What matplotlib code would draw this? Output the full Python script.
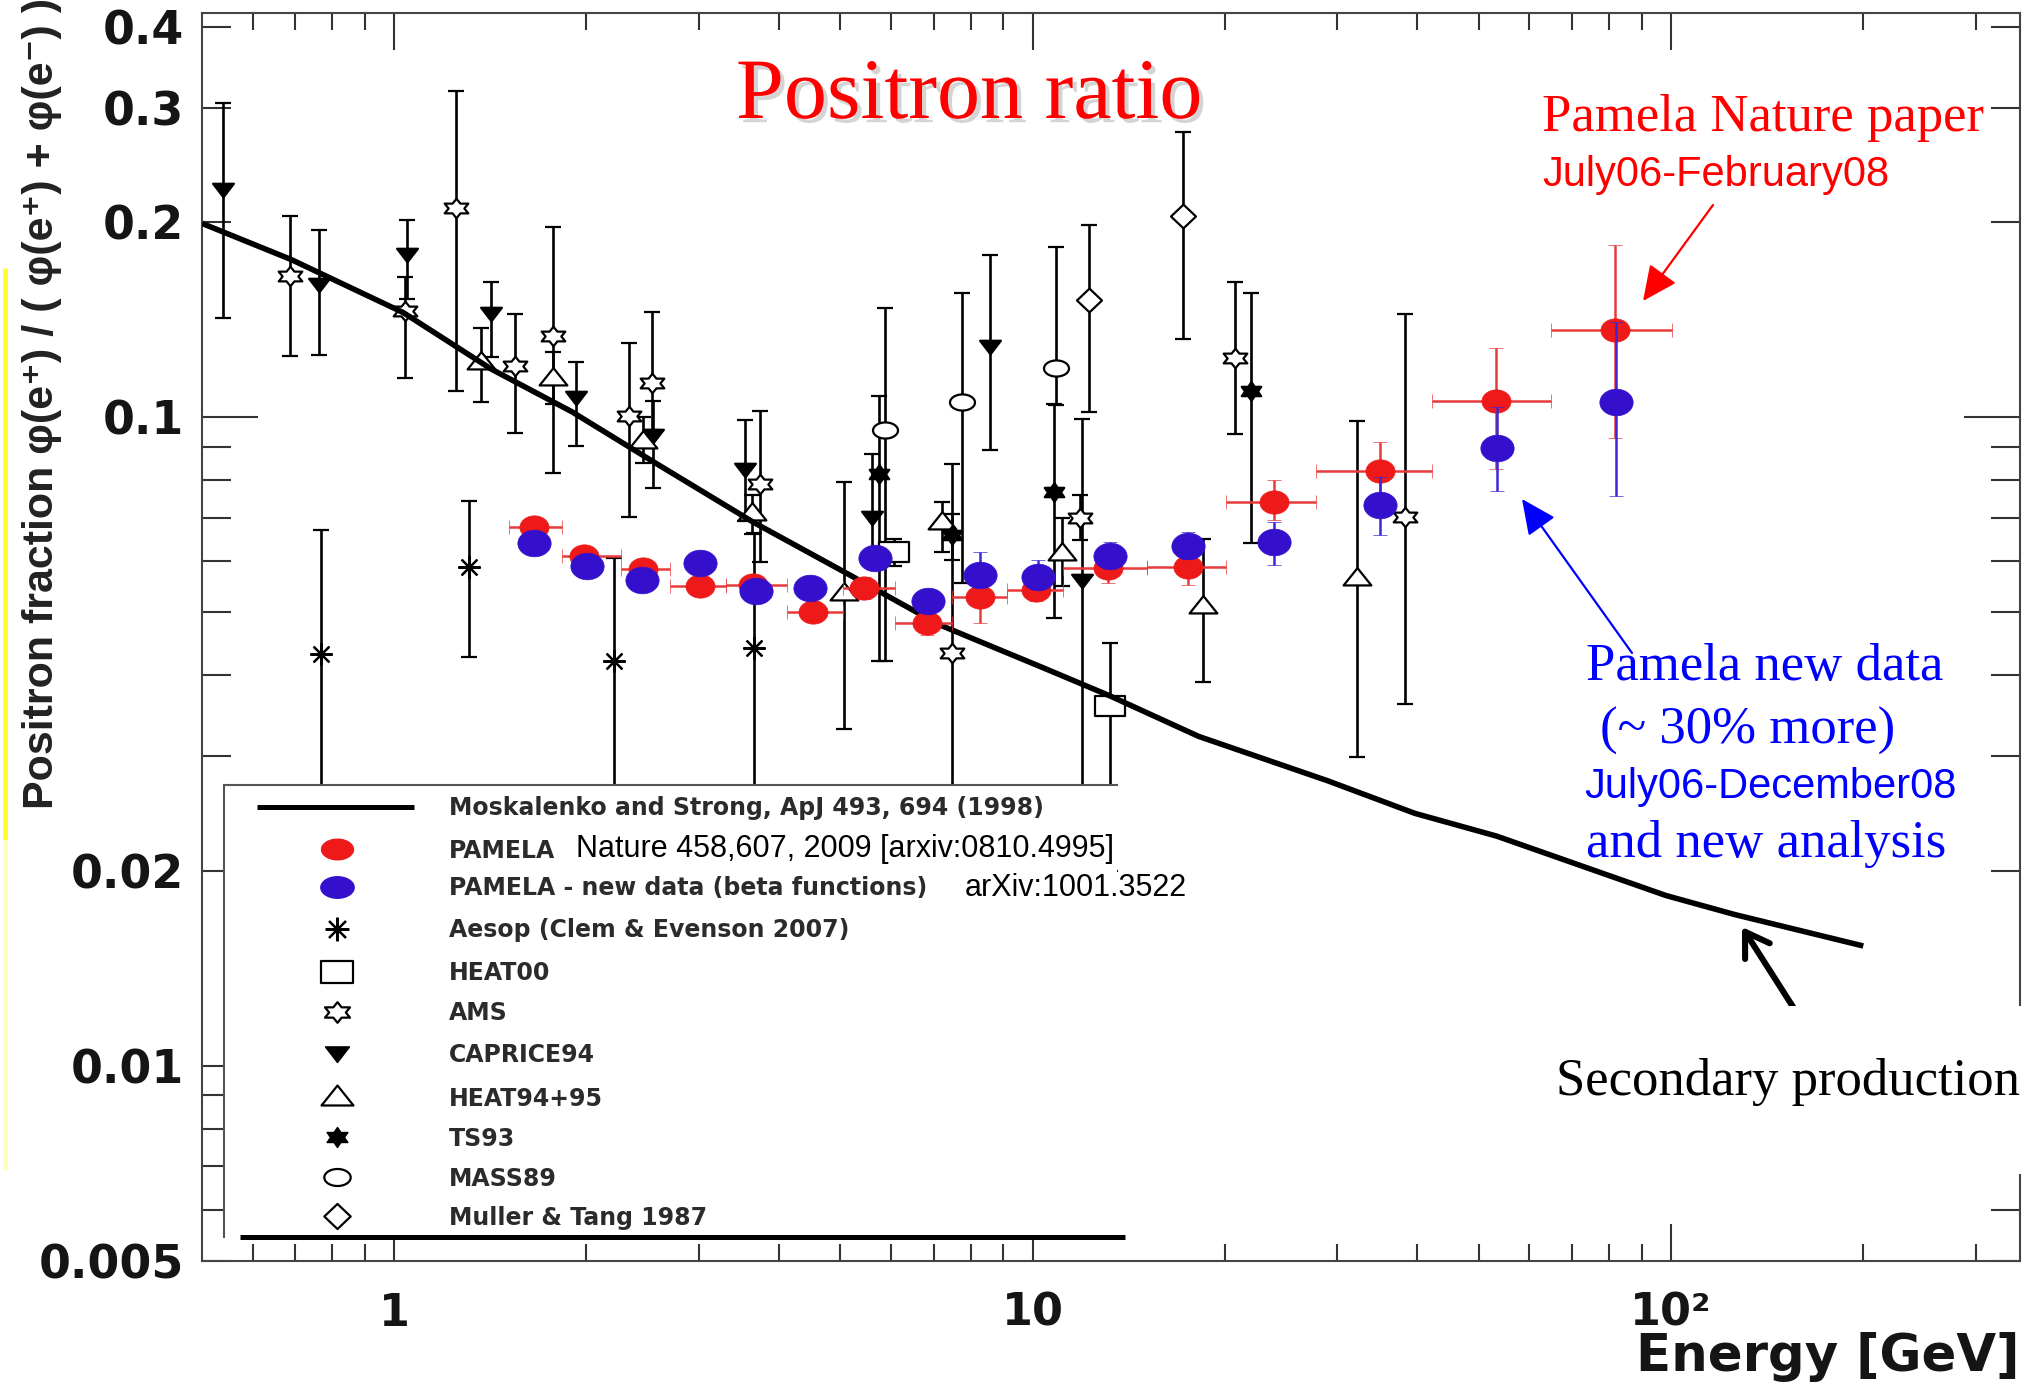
import numpy as np
import matplotlib
matplotlib.use("Agg")
import matplotlib.pyplot as plt
from matplotlib.path import Path
from matplotlib.patches import Rectangle
from matplotlib.ticker import NullFormatter
import matplotlib.patheffects as pe

# ---------------- data ----------------
# Secondary production model (Moskalenko & Strong 1998)
model_E = [0.50, 0.690, 1.033, 1.42, 1.90, 2.54, 3.65, 5.19, 7.13, 10.5, 13.2,
           18.2, 29.0, 39.7, 53.3, 98.2, 126, 200]
model_f = [0.199, 0.175, 0.145, 0.1186, 0.1019, 0.0855, 0.0689, 0.057, 0.0479,
           0.0409, 0.0372, 0.0322, 0.0275, 0.0245, 0.0226, 0.0183, 0.0171, 0.0153]

# PAMELA (Nature 2009) - red
red_E = [1.656, 1.984, 2.449, 3.011, 3.649, 4.527, 5.436, 6.826, 8.271, 10.14,
         13.13, 17.54, 23.92, 34.94, 53.18, 81.73]
red_f = [0.0676, 0.0611, 0.0583, 0.0550, 0.0552, 0.0501, 0.0545, 0.0482, 0.0529,
         0.0542, 0.0585, 0.0588, 0.0741, 0.0826, 0.1061, 0.1361]
red_lo = [0.0655, 0.0592, 0.0565, 0.0533, 0.0533, 0.0483, 0.0525, 0.0462, 0.0482,
          0.0520, 0.0555, 0.0551, 0.0695, 0.0751, 0.0833, 0.0929]
red_hi = [0.0698, 0.0631, 0.0602, 0.0568, 0.0572, 0.0520, 0.0567, 0.0503, 0.0575,
          0.0565, 0.0615, 0.0625, 0.0801, 0.0917, 0.1278, 0.1845]
red_Elo = [1.514, 1.831, 2.262, 2.703, 3.306, 4.122, 5.042, 6.097, 7.469, 9.107,
           11.17, 15.08, 20.12, 27.8, 42.2, 64.95]
red_Ehi = [1.831, 2.262, 2.703, 3.306, 4.122, 5.042, 6.097, 7.469, 9.107, 11.17,
           15.08, 20.12, 27.8, 42.2, 64.95, 100.5]

# PAMELA new data - blue
blue_E = [1.656, 2.001, 2.445, 3.018, 3.684, 4.485, 5.670, 6.855, 8.271, 10.20,
          13.21, 17.51, 23.92, 34.94, 53.35, 81.92]
blue_f = [0.0639, 0.0590, 0.0561, 0.0595, 0.0540, 0.0545, 0.0606, 0.0521, 0.0571,
          0.0568, 0.0611, 0.0632, 0.0642, 0.0731, 0.0897, 0.1054]
blue_lo = [0.0622, 0.0575, 0.0546, 0.0580, 0.0525, 0.0529, 0.0588, 0.0505, 0.0552,
           0.0550, 0.0590, 0.0605, 0.0592, 0.0658, 0.0769, 0.0755]
blue_hi = [0.0657, 0.0606, 0.0577, 0.0612, 0.0556, 0.0562, 0.0624, 0.0538, 0.0620,
           0.0602, 0.0643, 0.0666, 0.0690, 0.0809, 0.1037, 0.1400]

# Aesop (Clem & Evenson 2007)
aesop_E = [0.768, 1.311, 2.209, 3.657]
aesop_f = [0.0431, 0.0588, 0.0421, 0.0440]
aesop_lo = [0.020, 0.0427, 0.020, 0.020]
aesop_hi = [0.0670, 0.0743, 0.0606, 0.0662]

# HEAT00
heat00_E = [6.055, 13.21]
heat00_f = [0.0620, 0.0359]
heat00_lo = [0.0590, 0.020]
heat00_hi = [0.0650, 0.0448]

# AMS
ams_E = [0.688, 1.040, 1.251, 1.546, 1.772, 2.334, 2.537, 3.746, 7.469, 11.86, 20.73, 38.36]
ams_f = [0.1652, 0.1459, 0.2101, 0.1198, 0.1335, 0.1005, 0.1128, 0.0790, 0.0433, 0.0698, 0.1236, 0.0702]
ams_lo = [0.1243, 0.1151, 0.1097, 0.0946, 0.0821, 0.0702, 0.0955, 0.0599, 0.020, 0.0646, 0.0942, 0.0361]
ams_hi = [0.2046, 0.1647, 0.3189, 0.1443, 0.1964, 0.1300, 0.1455, 0.1024, 0.0848, 0.0758, 0.1614, 0.1445]

# CAPRICE94
caprice_E = [0.540, 0.762, 1.048, 1.416, 1.930, 2.545, 3.548, 5.602, 8.575, 11.97]
caprice_f = [0.2249, 0.1603, 0.1786, 0.1449, 0.1075, 0.0938, 0.0832, 0.0702, 0.1288, 0.0561]
caprice_lo = [0.1420, 0.1248, 0.1521, 0.1240, 0.0902, 0.0777, 0.0692, 0.0603, 0.0891, 0.020]
caprice_hi = [0.3050, 0.1943, 0.2014, 0.1619, 0.1215, 0.1061, 0.0991, 0.0879, 0.1777, 0.0995]

# HEAT94+95
heat95_E = [1.366, 1.772, 2.457, 3.636, 5.067, 7.204, 11.10, 18.49, 32.19]
heat95_f = [0.1215, 0.1151, 0.0920, 0.0711, 0.0535, 0.0690, 0.0617, 0.0511, 0.0565]
heat95_lo = [0.1054, 0.1047, 0.0851, 0.0661, 0.0331, 0.0620, 0.0550, 0.0390, 0.0299]
heat95_hi = [0.1372, 0.1259, 0.1000, 0.0759, 0.0794, 0.0740, 0.0698, 0.0650, 0.0988]

# TS93
ts93_E = [5.737, 7.469, 10.80, 22.01]
ts93_f = [0.0818, 0.0658, 0.0767, 0.1099]
ts93_lo = [0.0421, 0.0603, 0.0490, 0.0639]
ts93_hi = [0.1080, 0.0708, 0.1047, 0.1556]

# MASS89
mass89_E = [5.875, 7.745, 10.86]
mass89_f = [0.0954, 0.1054, 0.1193]
mass89_lo = [0.0421, 0.0555, 0.1046]
mass89_hi = [0.1476, 0.1556, 0.1830]

# Muller & Tang 1987
muller_E = [12.27, 17.20]
muller_f = [0.1514, 0.2041]
muller_lo = [0.1019, 0.1319]
muller_hi = [0.1982, 0.2757]

# axis ticks
x_major = [1, 10, 100]
x_major_labels = ["1", "10", "10\u00b2"]
x_minor = [0.6, 0.7, 0.8, 0.9, 2, 3, 4, 5, 6, 7, 8, 9,
           20, 30, 40, 50, 60, 70, 80, 90, 200, 300]
y_major = [0.01, 0.1]
y_major_labels = ["0.01", "0.1"]
y_minor = [0.005, 0.006, 0.007, 0.008, 0.009, 0.02, 0.03, 0.04, 0.05, 0.06,
           0.07, 0.08, 0.09, 0.2, 0.3, 0.4]
y_minor_labels = ["0.005", "", "", "", "", "0.02", "", "", "", "", "", "", "",
                  "0.2", "0.3", "0.4"]

legend_labels = ["Moskalenko and Strong, ApJ 493, 694 (1998)",
                 "PAMELA", "PAMELA - new data (beta functions)",
                 "Aesop (Clem & Evenson 2007)", "HEAT00", "AMS", "CAPRICE94",
                 "HEAT94+95", "TS93", "MASS89", "Muller & Tang 1987"]


# ---------------- marker shapes ----------------
def closed(verts):
    v = np.asarray(verts, float)
    v = np.vstack([v, v[:1]])
    return Path(v, closed=True)


_t = np.linspace(0, 2 * np.pi, 49)[:-1]


def ellipse(aspect):
    return closed(np.c_[aspect * np.cos(_t), np.sin(_t)])


def hexagram(sx):
    ang = np.deg2rad(90 + 30 * np.arange(12))
    r = np.where(np.arange(12) % 2 == 0, 1.0, 0.577)
    return closed(np.c_[sx * r * np.cos(ang), r * np.sin(ang)])


m_red = ellipse(1.25)
m_leg_dot = ellipse(1.55)
m_mass = ellipse(1.55)
m_ams = hexagram(1.4)
m_ts = hexagram(1.2)
m_tri_up = closed([(-1, -0.5), (1, -0.5), (0, 0.75)])
m_tri_dn = closed([(-1, 0.55), (1, 0.55), (0, -0.75)])
m_rect = closed([(-1, -0.67), (1, -0.67), (1, 0.67), (-1, 0.67)])
m_diam = closed([(-1, 0), (0, 0.95), (1, 0), (0, -0.95)])
m_ast = (8, 2, 0)

RED = "#ee1a1a"
BLUE = "#3510cc"

# ---------------- figure ----------------
W, H = 2042, 1385
fig = plt.figure(figsize=(W / 100, H / 100), dpi=100)
L, R, T, B = 202, 2020, 13, 1261
ax = fig.add_axes([L / W, 1 - B / H, (R - L) / W, (B - T) / H])
ax.set_xscale("log")
ax.set_yscale("log")
ax.set_xlim(0.5, 352)
ax.set_ylim(0.005, 0.42)

for s in ax.spines.values():
    s.set_color("#444444")
    s.set_linewidth(1.5)

ax.set_xticks(x_major)
ax.set_xticklabels(x_major_labels)
ax.set_xticks(x_minor, minor=True)
ax.xaxis.set_minor_formatter(NullFormatter())
ax.set_yticks(y_major)
ax.set_yticklabels(y_major_labels)
ax.set_yticks(y_minor, minor=True)
ax.set_yticklabels(y_minor_labels, minor=True)

ax.tick_params(which="both", direction="in", top=True, right=True,
               color="#333333", width=1.5)
ax.tick_params(axis="x", which="major", length=26.5, pad=22)
ax.tick_params(axis="x", which="minor", length=12.5)
ax.tick_params(axis="y", which="major", length=40, pad=13)
ax.tick_params(axis="y", which="minor", length=21, pad=13)
for t in ax.get_xticklabels(which="both"):
    t.set_fontfamily("DejaVu Sans")
    t.set_fontweight("bold")
    t.set_fontsize(32)
    t.set_color("#151515")
for t in ax.get_yticklabels(which="both"):
    t.set_fontfamily("DejaVu Sans")
    t.set_fontweight("bold")
    t.set_fontsize(33)
    t.set_color("#151515")


def black_set(E, f, lo, hi, marker, ms, filled=False, z=2):
    E = np.asarray(E); f = np.asarray(f)
    yerr = [f - np.asarray(lo), np.asarray(hi) - f]
    ax.errorbar(E, f, yerr=yerr, ls="none", marker=marker, ms=ms,
                mfc="black" if filled else "white", mec="black", mew=1.6,
                ecolor="black", elinewidth=1.9, capsize=5.5, capthick=1.9,
                zorder=z)


black_set(aesop_E, aesop_f, aesop_lo, aesop_hi, m_ast, 16)
black_set(heat00_E, heat00_f, heat00_lo, heat00_hi, m_rect, 21)
black_set(ams_E, ams_f, ams_lo, ams_hi, m_ams, 17)
black_set(caprice_E, caprice_f, caprice_lo, caprice_hi, m_tri_dn, 15, filled=True)
black_set(heat95_E, heat95_f, heat95_lo, heat95_hi, m_tri_up, 20)
black_set(ts93_E, ts93_f, ts93_lo, ts93_hi, m_ts, 14, filled=True)
black_set(mass89_E, mass89_f, mass89_lo, mass89_hi, m_mass, 18)
black_set(muller_E, muller_f, muller_lo, muller_hi, m_diam, 18)

ax.plot(model_E, model_f, color="black", lw=4.0, zorder=3,
        solid_capstyle="butt", solid_joinstyle="round")

rE = np.asarray(red_E); rf = np.asarray(red_f)
ax.errorbar(rE, rf,
            yerr=[rf - np.asarray(red_lo), np.asarray(red_hi) - rf],
            xerr=[rE - np.asarray(red_Elo), np.asarray(red_Ehi) - rE],
            ls="none", marker=m_red, ms=21, mfc=RED, mec=RED, mew=0.5,
            ecolor="#e83a3a", elinewidth=1.8, capsize=5, capthick=1.8, zorder=4)
bf = np.asarray(blue_f)
ax.errorbar(blue_E, bf,
            yerr=[bf - np.asarray(blue_lo), np.asarray(blue_hi) - bf],
            ls="none", marker=m_red, ms=24, mfc=BLUE, mec=BLUE, mew=0.5,
            ecolor="#3a28d8", elinewidth=1.8, capsize=5, capthick=1.8, zorder=5)

# ---------------- overlay (legend box, annotations) ----------------
ov = fig.add_axes([0, 0, 1, 1], zorder=10)
ov.set_xlim(0, W)
ov.set_ylim(H, 0)
ov.axis("off")

# legend box
ov.add_patch(Rectangle((224, 785), 893, 452, facecolor="white",
                       edgecolor="none", zorder=1))
ov.plot([224, 1117], [785, 785], color="#555555", lw=1.5, zorder=2)
ov.plot([224, 224], [785, 1237], color="#555555", lw=1.5, zorder=2)
ov.plot([240, 1125], [1237, 1237], color="black", lw=3.6, zorder=2,
        solid_capstyle="butt")

rows = [807, 849, 887, 929, 972, 1012, 1053, 1097, 1137, 1177, 1216]
mx, tx = 337, 449
ov.plot([257, 414], [rows[0], rows[0]], color="black", lw=3.6,
        solid_capstyle="butt", zorder=3)
leg_markers = [None,
               dict(marker=m_leg_dot, ms=23, mfc=RED, mec=RED),
               dict(marker=m_leg_dot, ms=24, mfc=BLUE, mec=BLUE),
               dict(marker=m_ast, ms=17, mfc="black", mec="black", mew=1.6),
               dict(marker=m_rect, ms=23, mfc="white", mec="black", mew=1.6),
               dict(marker=m_ams, ms=18, mfc="white", mec="black", mew=1.6),
               dict(marker=m_tri_dn, ms=17, mfc="black", mec="black", mew=1.2),
               dict(marker=m_tri_up, ms=23, mfc="white", mec="black", mew=1.6),
               dict(marker=m_ts, ms=15, mfc="black", mec="black", mew=1.0),
               dict(marker=m_mass, ms=19, mfc="white", mec="black", mew=1.6),
               dict(marker=m_diam, ms=19, mfc="white", mec="black", mew=1.6)]
for y, lab, mk in zip(rows, legend_labels, leg_markers):
    if mk is not None:
        ov.plot([mx], [y], ls="none", zorder=3, **mk)
    ov.text(tx, y + 8.5, lab, fontsize=17, fontweight="bold",
            family="DejaVu Sans", color="#2b2b2b", va="baseline", ha="left",
            zorder=3)
ov.text(576, rows[1] + 8.5, "Nature 458,607, 2009 [arxiv:0810.4995]",
        fontsize=22, family="Liberation Sans", color="black",
        va="baseline", ha="left", zorder=3)
ov.text(965, rows[2] + 8.5, "arXiv:1001.3522", fontsize=22,
        family="Liberation Sans", color="black", va="baseline", ha="left",
        zorder=3)

# title
ov.text(736, 118, "Positron ratio", fontsize=62, family="Liberation Serif",
        color="#ff0000", va="baseline", ha="left",
        path_effects=[pe.withSimplePatchShadow(offset=(3, -3),
                                               shadow_rgbFace="#aaaaaa",
                                               alpha=0.5)])

# red annotation
ov.text(1542, 131, "Pamela Nature paper", fontsize=38,
        family="Liberation Serif", color="#ff0000", va="baseline", ha="left")
ov.text(1542, 186, "July06-February08", fontsize=30,
        family="Liberation Sans", color="#ff0000", va="baseline", ha="left")
ov.annotate("", xy=(1643, 301), xytext=(1713, 205),
            arrowprops=dict(arrowstyle="-|>,head_length=0.6,head_width=0.28",
                            color="#ff0000", lw=1.6, mutation_scale=36,
                            shrinkA=0, shrinkB=0))

# blue annotation
ov.annotate("", xy=(1522, 499), xytext=(1632, 653),
            arrowprops=dict(arrowstyle="-|>,head_length=0.6,head_width=0.28",
                            color="#0000ff", lw=1.6, mutation_scale=36,
                            shrinkA=0, shrinkB=0))
ov.text(1586, 680, "Pamela new data", fontsize=38, family="Liberation Serif",
        color="#0000ff", va="baseline", ha="left")
ov.text(1600, 744, "(~ 30% more)", fontsize=38, family="Liberation Serif",
        color="#0000ff", va="baseline", ha="left")
ov.text(1584, 798, "July06-December08", fontsize=30, family="Liberation Sans",
        color="#0000ff", va="baseline", ha="left")
ov.text(1586, 857, "and new analysis", fontsize=38, family="Liberation Serif",
        color="#0000ff", va="baseline", ha="left")

# secondary production annotation
ov.annotate("", xy=(1742, 927), xytext=(1795, 1010),
            arrowprops=dict(arrowstyle="->,head_length=0.55,head_width=0.35",
                            color="black", lw=4.4, mutation_scale=30,
                            shrinkA=0, shrinkB=0))
ov.add_patch(Rectangle((1342, 1006), 700, 168, facecolor="white",
                       edgecolor="none", zorder=4))
ov.text(1556, 1095, "Secondary production", fontsize=38,
        family="Liberation Serif", color="black", va="baseline", ha="left",
        zorder=5)

# axis titles
ov.text(2019, 1371, "Energy [GeV]", fontsize=37, fontweight="bold",
        family="DejaVu Sans", color="#151515", va="baseline", ha="right")
ov.text(42, 403, "Positron fraction \u03c6(e\u207a) / ( \u03c6(e\u207a) + \u03c6(e\u207b) )",
        fontsize=31, fontweight="bold", family=["Liberation Sans", "DejaVu Sans"],
        color="#222222", rotation=90, va="center", ha="center")

# yellow strip at the left edge
ov.plot([5, 5], [268, 840], color="#ffff30", lw=3.5, solid_capstyle="butt")
ov.plot([5, 5], [840, 1170], color="#ffffc0", lw=3.5, solid_capstyle="butt")

fig.savefig("out.png", dpi=100)
